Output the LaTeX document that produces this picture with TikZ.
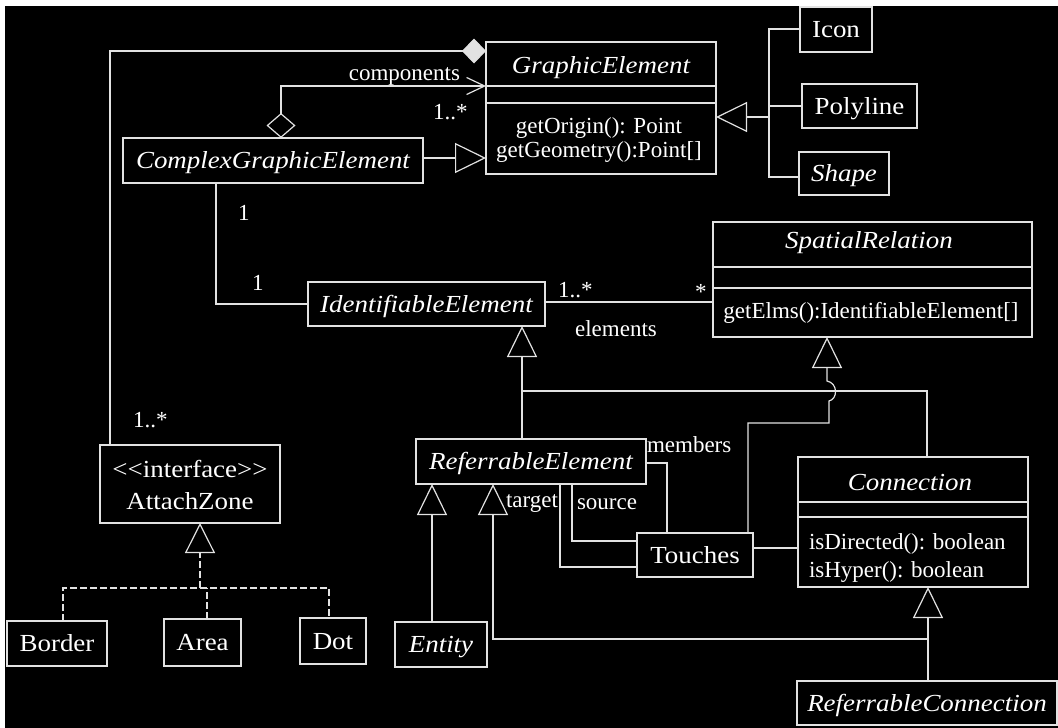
\documentclass[tikz,border=0pt]{standalone}
\usepackage{graphicx}
\usepackage{fontspec}
\setmainfont{Liberation Serif}
\usetikzlibrary{arrows.meta}
\definecolor{ln}{HTML}{E2E2E2}
\newcommand\clsfont{\fontsize{24.5}{26}\selectfont}
\newcommand\memfont{\fontsize{23}{24}\selectfont}
\newcommand\cname[1]{\scalebox{1.1}[1]{#1}}
\newcommand\iname[1]{\scalebox{1.1}[1]{\itshape #1}}
\tikzset{
  box/.style={draw=ln, line width=1.2pt, inner sep=0pt, outer sep=0pt,
    text=white, font=\clsfont, text height=20pt, text depth=4pt},
  lbl/.style={text=white, font=\memfont, inner sep=0pt, outer sep=0pt},
  ttl/.style={lbl, font=\clsfont, anchor=base},
  link/.style={draw=ln, line width=1.2pt},
  gen/.style={link, -{Triangle[open, length=31pt, width=30pt]}},
  dsh/.style={link, dash pattern=on 7pt off 3pt},
  real/.style={dsh, -{Triangle[open, length=30pt, width=30pt, sep=0pt]}},
}
\begin{document}
\begin{tikzpicture}[x=1pt, y=-1pt]
\useasboundingbox (0,0) rectangle (1058,728);
\fill[white] (0,0) rectangle (1058,728);
\fill[black] (5,6) rectangle (1058,728);

% ---------- classes ----------
\node[box, minimum width=230pt, minimum height=132pt] (ge) at (601,108) {};
\draw[link] (ge.west |- 0,86) -- (ge.east |- 0,86);
\draw[link] (ge.west |- 0,103) -- (ge.east |- 0,103);
\node[ttl] (geT) at (601,73) {\iname{GraphicElement}};
\node[lbl, anchor=base] (geM1) at (599,133) {getOrigin(): Point};
\node[lbl, anchor=base] (geM2) at (599,157) {getGeometry():Point[]};

\node[box, minimum width=72pt, minimum height=45pt] (icon) at (836,29.5) {\cname{Icon}};
\node[box, minimum width=115pt, minimum height=44pt] (poly) at (859.5,106) {\cname{Polyline}};
\node[box, minimum width=90pt, minimum height=43pt] (shape) at (844,173.5) {\iname{Shape}};

\node[box, minimum width=300pt, minimum height=45pt] (cge) at (273,160.5) {\iname{ComplexGraphicElement}};
\node[box, minimum width=237pt, minimum height=44pt] (ie) at (426.5,304) {\iname{IdentifiableElement}};

\node[box, minimum width=319pt, minimum height=115pt] (sr) at (872.5,279.5) {};
\draw[link] (sr.west |- 0,267) -- (sr.east |- 0,267);
\draw[link] (sr.west |- 0,288) -- (sr.east |- 0,288);
\node[ttl] (srT) at (869,248) {\iname{SpatialRelation}};
\node[lbl, anchor=base] (srM) at (871,318) {getElms():IdentifiableElement[]};

\node[box, minimum width=180pt, minimum height=78pt] (az) at (190,484) {};
\node[ttl] (azS) at (190,477) {\cname{<\kern0pt<interface>\kern0pt>}};
\node[ttl] (azN) at (190,509) {\cname{AttachZone}};

\node[box, minimum width=100pt, minimum height=45pt] (border) at (57,643.5) {\cname{Border}};
\node[box, minimum width=77pt, minimum height=47pt] (area) at (202.5,642.5) {\cname{Area}};
\node[box, minimum width=66pt, minimum height=46pt] (dot) at (333,641) {\cname{Dot}};

\node[box, minimum width=230pt, minimum height=45pt] (re) at (531,461.5) {\iname{ReferrableElement}};
\node[box, minimum width=116pt, minimum height=44pt] (touches) at (695,555) {\cname{Touches}};

\node[box, minimum width=230pt, minimum height=130pt] (conn) at (913,522) {};
\draw[link] (conn.west |- 0,502) -- (conn.east |- 0,502);
\draw[link] (conn.west |- 0,517) -- (conn.east |- 0,517);
\node[ttl] (connT) at (910,490) {\iname{Connection}};
\node[lbl, anchor=base west] (connM1) at (809,549) {isDirected(): boolean};
\node[lbl, anchor=base west] (connM2) at (809,577) {isHyper(): boolean};

\node[box, minimum width=92pt, minimum height=45pt] (entity) at (441,644.5) {\iname{Entity}};
\node[box, minimum width=260pt, minimum height=44pt] (rc) at (927,703) {\iname{ReferrableConnection}};

% ---------- connectors ----------
% composition: AttachZone parts of GraphicElement
\draw[link, -{Diamond[length=24pt, width=25pt]}] (az.north -| 110,0) |- (ge.west |- 0,51);
% aggregation: components
\draw[link, {Diamond[open, length=25pt, width=29pt]}-{Straight Barb[length=18pt, width=17pt]}]
  (cge.north -| 281,0) |- (ge.west |- 0,86);
% generalisations to GraphicElement
\draw[gen] (cge.east |- 0,158) -- (ge.west |- 0,158);
\coordinate (gj) at (769,117);
\draw[link] (icon.west |- 0,29) -| (gj);
\draw[link] (shape.west |- 0,177) -| (gj);
\draw[link] (poly.west) -- (poly.west -| gj);
\draw[gen] (gj) -- (ge.east |- gj);
% associations
\draw[link] (cge.south -| 216,0) |- (ie.west);
\draw[link] (ie.east |- 0,302) -- (sr.west |- 0,302);
% generalisations to IdentifiableElement
\coordinate (ij) at (522,391);
\draw[gen] (re.north -| ij) -- (ie.south -| ij);
\draw[link] (ij) -| (conn.north -| 927,0);
% Touches specialises SpatialRelation (hop over the branch line)
\draw[link, -{Triangle[open, length=31pt, width=30pt]}]
  (touches.north -| 748,0) |- (829,423) -- (829,401)
  .. controls (838,399) and (838,383) .. (827,381) -- (sr.south -| 827,0);
% Touches roles
\draw[link] (re.east |- 0,463) -| (touches.north -| 667,0);
\draw[link] (re.south -| 572,0) |- (touches.west |- 0,541);
\draw[link] (re.south -| 560,0) |- (touches.west |- 0,567);
\draw[link] (touches.east |- 0,548) -- (conn.west |- 0,548);
% generalisations to ReferrableElement and Connection
\draw[gen] (entity.north -| 432,0) -- (re.south -| 432,0);
\coordinate (rj) at (928,639);
\draw[gen] (rc.north -| rj) -- (conn.south -| rj);
\draw[gen] (rj) -| (re.south -| 493,0);
% realisations of AttachZone
\coordinate (zj) at (200,588);
\draw[real] (zj) -- (az.south -| zj);
\draw[dsh] (border.north -| 63,0) |- (329,588) -- (dot.north -| 329,0);
\draw[dsh] (area.north -| 207,0) -- (207,588);

% ---------- labels ----------
\node[lbl, anchor=base east] (lcomp) at (460,80) {components};
\node[lbl, anchor=base west] (lm1) at (433,119) {1..*};
\node[lbl, anchor=base west] (lm2) at (133,427) {1..*};
\node[lbl, anchor=base west] (lm3) at (238,220) {1};
\node[lbl, anchor=base west] (lm4) at (252,290) {1};
\node[lbl, anchor=base west] (lm5) at (558,297) {1..*};
\node[lbl, anchor=base] (lel) at (616,336) {elements};
\node[lbl, anchor=base west] (lm6) at (695,299) {*};
\node[lbl, anchor=base west] (lmem) at (647,452) {members};
\node[lbl, anchor=base west] (ltgt) at (506,507) {target};
\node[lbl, anchor=base west] (lsrc) at (577,509) {source};
\end{tikzpicture}
\end{document}
